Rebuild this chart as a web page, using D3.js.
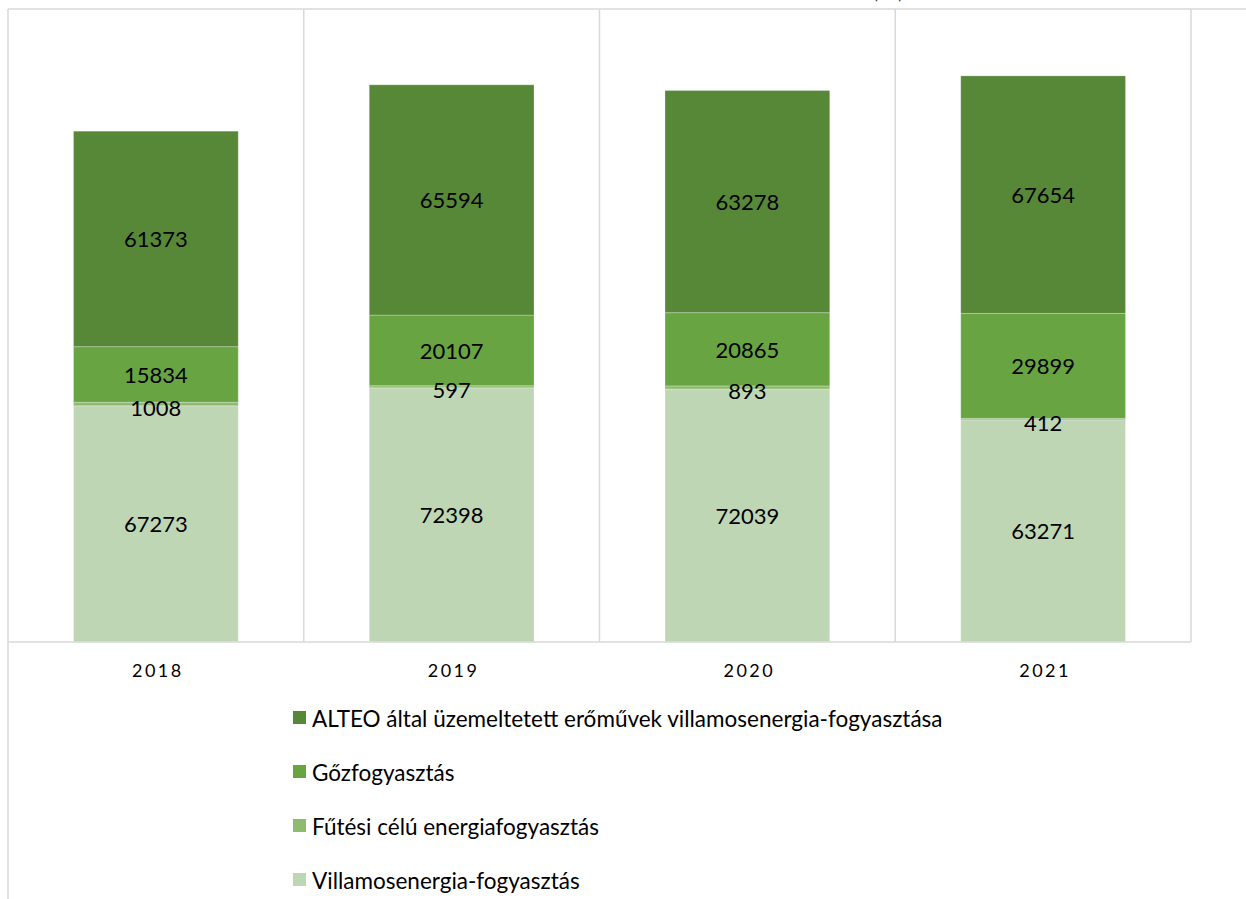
<!DOCTYPE html>
<html>
<head>
<meta charset="utf-8">
<script src="https://cdn.jsdelivr.net/npm/d3@7"></script>
<style>
    body { margin: 0; background: #ffffff; }
    svg { display: block; font-family: Lato, "Open Sans", sans-serif; }
</style>
</head>
<body>
<div id="chartContainer"></div>
<script>
'use strict';

// chart data
const years = ["2018", "2019", "2020", "2021"];
const seriesNames = [
    "Villamosenergia-fogyasztás",
    "Fűtési célú energiafogyasztás",
    "Gőzfogyasztás",
    "ALTEO által üzemeltetett erőművek villamosenergia-fogyasztása"
];
const villamos = [67273, 72398, 72039, 63271];
const futesi = [1008, 597, 893, 412];
const gozfogyasztas = [15834, 20107, 20865, 29899];
const alteo = [61373, 65594, 63278, 67654];
const seriesColors = ["#bfd6b4", "#8fbb70", "#69a443", "#578838"];
const yMax = 180000;

const width = 1246, height = 899;
const plot = { left: 8, right: 1191, top: 10, bottom: 642 };

const svg = d3.select("#chartContainer")
    .append("svg")
    .attr("width", width)
    .attr("height", height);

// build rows for the stack
const rows = years.map((y, i) => ({
    year: y,
    s0: villamos[i],
    s1: futesi[i],
    s2: gozfogyasztas[i],
    s3: alteo[i]
}));
const keys = ["s0", "s1", "s2", "s3"];
const stacked = d3.stack().keys(keys)(rows);

const x = d3.scaleBand()
    .domain(years)
    .range([plot.left, plot.right])
    .paddingInner(0)
    .paddingOuter(0);

const y = d3.scaleLinear()
    .domain([0, yMax])
    .range([plot.bottom, plot.top]);

const barWidth = x.bandwidth() * 0.557;
const gridColor = "#d9d9d9";

// clipped title fragment at the very top (cut off in the original too)
svg.append("text")
    .attr("x", 888)
    .attr("y", -1)
    .attr("text-anchor", "middle")
    .style("font-size", "18px")
    .attr("fill", "#404040")
    .text("(GJ)");

// frame lines
svg.append("line")
    .attr("x1", plot.left).attr("x2", width)
    .attr("y1", 9).attr("y2", 9)
    .attr("stroke", gridColor).attr("stroke-width", 1.5);

svg.append("line")
    .attr("x1", plot.left).attr("x2", plot.left)
    .attr("y1", 9).attr("y2", height)
    .attr("stroke", gridColor).attr("stroke-width", 1.5);

// category dividers
const dividers = years.map(d => x(d) + x.bandwidth());
svg.selectAll(".divider")
    .data(dividers)
    .enter()
    .append("line")
    .attr("class", "divider")
    .attr("x1", d => d).attr("x2", d => d)
    .attr("y1", 9).attr("y2", plot.bottom)
    .attr("stroke", gridColor).attr("stroke-width", 1.5);

// bars
const layers = svg.selectAll(".layer")
    .data(stacked)
    .enter()
    .append("g")
    .attr("class", "layer")
    .attr("fill", (d, i) => seriesColors[i]);

layers.selectAll("rect")
    .data(d => d)
    .enter()
    .append("rect")
    .attr("x", d => x(d.data.year) + (x.bandwidth() - barWidth) / 2)
    .attr("y", d => y(d[1]))
    .attr("width", barWidth)
    .attr("height", d => y(d[0]) - y(d[1]))
    .attr("stroke", "#ffffff")
    .attr("stroke-opacity", 0.25)
    .attr("stroke-width", 1);

// value labels
stacked.forEach((layer, li) => {
    svg.selectAll(".label" + li)
        .data(layer)
        .enter()
        .append("text")
        .attr("class", "label" + li)
        .attr("x", d => x(d.data.year) + x.bandwidth() / 2)
        .attr("y", d => (y(d[0]) + y(d[1])) / 2 + (li == 1 ? 3 : 0))
        .attr("text-anchor", "middle")
        .attr("dominant-baseline", "central")
        .style("font-size", "22px")
        .attr("fill", "#000000")
        .text(d => d.data[layer.key]);
});

// baseline
svg.append("line")
    .attr("x1", plot.left).attr("x2", plot.right)
    .attr("y1", plot.bottom).attr("y2", plot.bottom)
    .attr("stroke", gridColor).attr("stroke-width", 1.5);

// year labels
svg.selectAll(".yearLabel")
    .data(years)
    .enter()
    .append("text")
    .attr("class", "yearLabel")
    .attr("x", d => x(d) + x.bandwidth() / 2 + 2)
    .attr("y", 677)
    .attr("text-anchor", "middle")
    .style("font-size", "18px")
    .style("letter-spacing", "2.5px")
    .attr("fill", "#000000")
    .text(d => d);

// legend, top entry is the last series
const legendOrder = [3, 2, 1, 0];
const legend = svg.selectAll(".legendItem")
    .data(legendOrder)
    .enter()
    .append("g")
    .attr("class", "legendItem")
    .attr("transform", (d, i) => "translate(293," + (718 + i * 54) + ")");

legend.append("rect")
    .attr("x", 0)
    .attr("y", -7)
    .attr("width", 13)
    .attr("height", 13)
    .attr("fill", d => seriesColors[d]);

legend.append("text")
    .attr("x", 19)
    .attr("y", 0)
    .attr("dominant-baseline", "central")
    .style("font-size", "22.5px")
    .attr("fill", "#000000")
    .text(d => seriesNames[d]);
</script>
</body>
</html>
